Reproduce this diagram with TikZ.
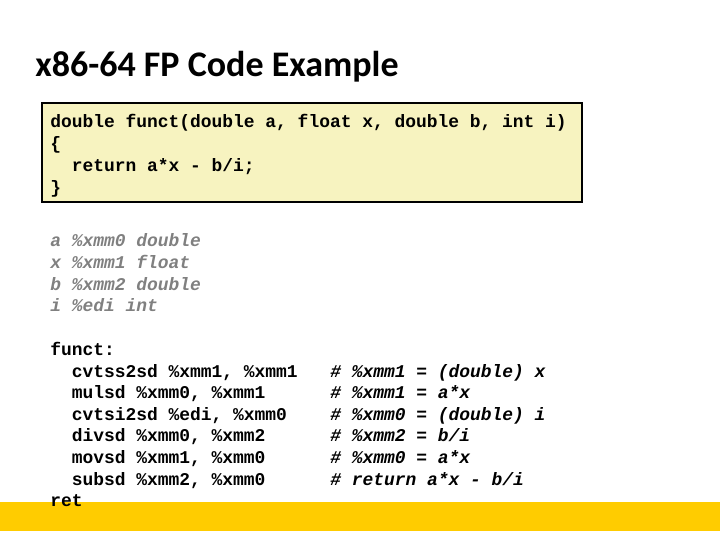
\documentclass[tikz,border=0pt]{standalone}
\usepackage{fontspec}
\setmainfont{Carlito}
\newfontfamily\codefont{Liberation Mono}
\definecolor{boxfill}{HTML}{F7F3C0}
\definecolor{barfill}{HTML}{FFCC00}
\definecolor{vargray}{HTML}{808080}
\tikzset{
  code/.style={anchor=base west, inner sep=0pt, font=\codefont\fontsize{13.45}{16}\selectfont\bfseries},
  note/.style={code, font=\codefont\fontsize{13.45}{16}\selectfont\bfseries\itshape},
}
\begin{document}
\begin{tikzpicture}[x=0.75pt,y=-0.75pt]
\useasboundingbox (0,0) rectangle (720,540);
\fill[barfill] (0,502) rectangle (720,531);
\node[anchor=base west, inner sep=0pt, font=\fontsize{27}{32}\selectfont\bfseries] (title) at (35,76) {x86-64 FP Code Example};
\draw[line width=1.5pt, fill=boxfill] (42,103) rectangle (582,202);
\node[code] (c1) at (50,127) {double funct(double a, float x, double b, int i)};
\node[code] (c2) at (50,149) {\{};
\node[code] (c3) at (50,171) {\ \ return a*x - b/i;};
\node[code] (c4) at (50,193) {\}};
\node[note, text=vargray] (v1) at (50,246) {a \%xmm0 double};
\node[note, text=vargray] (v2) at (50,268) {x \%xmm1 float};
\node[note, text=vargray] (v3) at (50,290) {b \%xmm2 double};
\node[note, text=vargray] (v4) at (50,311) {i \%edi int};
\node[code] (f0) at (50,355) {funct:};
\node[code] (f1) at (50,377) {\ \ cvtss2sd \%xmm1, \%xmm1};
\node[code] (f2) at (50,398) {\ \ mulsd \%xmm0, \%xmm1};
\node[code] (f3) at (50,420) {\ \ cvtsi2sd \%edi, \%xmm0};
\node[code] (f4) at (50,441) {\ \ divsd \%xmm0, \%xmm2};
\node[code] (f5) at (50,463) {\ \ movsd \%xmm1, \%xmm0};
\node[code] (f6) at (50,485) {\ \ subsd \%xmm2, \%xmm0};
\node[code] (f7) at (50,506) {ret};
\node[note] (n1) at (330,377) {\# \%xmm1 = (double) x};
\node[note] (n2) at (330,398) {\# \%xmm1 = a*x};
\node[note] (n3) at (330,420) {\# \%xmm0 = (double) i};
\node[note] (n4) at (330,441) {\# \%xmm2 = b/i};
\node[note] (n5) at (330,463) {\# \%xmm0 = a*x};
\node[note] (n6) at (330,485) {\# return a*x - b/i};
\end{tikzpicture}
\end{document}
